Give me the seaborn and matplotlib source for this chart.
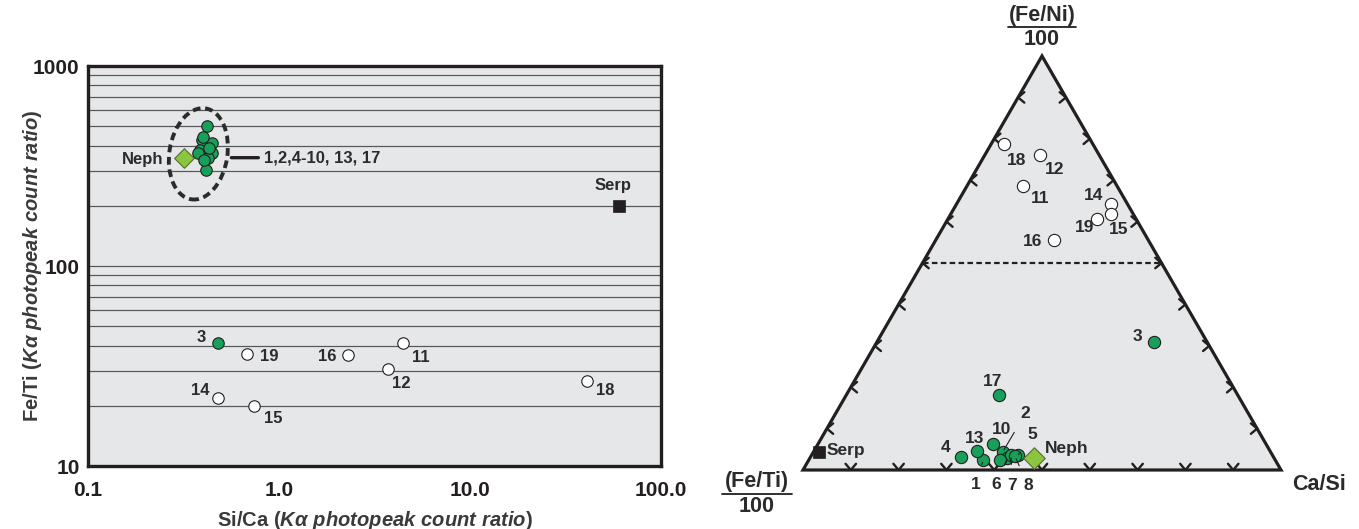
import numpy as np
import matplotlib
matplotlib.use("Agg")
import matplotlib.pyplot as plt
import matplotlib.transforms as mtransforms
from matplotlib.patches import Ellipse, Polygon
from matplotlib.ticker import LogLocator, NullFormatter
import seaborn as sns

# ---- data: Si/Ca vs Fe/Ti (left panel) ----
cluster_ids = ["1", "2", "4", "5", "6", "7", "8", "9", "10", "13", "17"]
cluster_sica = [0.418, 0.394, 0.445, 0.386, 0.445, 0.375, 0.423, 0.413, 0.400, 0.430, 0.405]
cluster_feti = [503, 427, 412, 380, 367, 367, 348, 302, 442, 389, 339]

green_ids = ["3"]
green_sica = [0.48]
green_feti = [41]

open_ids = ["11", "12", "14", "15", "16", "18", "19"]
open_sica = [4.45, 3.7, 0.48, 0.74, 2.3, 41, 0.68]
open_feti = [41, 30.5, 22, 20, 36, 26.6, 36.3]

neph_sica, neph_feti = 0.32, 348
serp_sica, serp_feti = 60, 200

x_ticks = [0.1, 1, 10, 100]
x_ticklabels = ["0.1", "1.0", "10.0", "100.0"]
y_ticks = [10, 100, 1000]
y_ticklabels = ["10", "100", "1000"]

# ---- data: ternary (Fe/Ni top, Ca/Si right, Fe/Ti left), percent ----
tern_green_ids = ["1", "2", "3", "4", "5", "6", "7", "8", "9", "10", "13", "17"]
tern_green_feni = [2.5, 4.3, 30.8, 3.1, 3.7, 2.8, 3.6, 3.3, 2.4, 6.3, 4.5, 18.0]
tern_green_casi = [36.5, 39.6, 58.1, 31.5, 43.2, 41.3, 41.7, 42.7, 40.0, 36.5, 34.1, 32.1]

tern_open_ids = ["11", "12", "14", "15", "16", "18", "19"]
tern_open_feni = [68.6, 76.2, 64.3, 61.9, 55.6, 78.7, 60.7]
tern_open_casi = [11.7, 11.4, 32.2, 33.4, 24.7, 2.6, 31.2]

tern_neph = (2.8, 46.9)
tern_serp = (4.3, 1.1)

# label offsets in pixels (dx right, dy down)
left_label_off = {"3": (-17, -6), "11": (18, 14), "12": (14, 14), "14": (-18, -7),
                  "15": (19, 13), "16": (-21, 2), "18": (18, 9), "19": (22, 2)}
tern_label_off = {"18": (13, 16), "12": (15, 15), "11": (17, 13), "14": (-17, -8),
                  "15": (8, 16), "19": (-13, 9), "16": (-21, 2), "3": (-17, -6),
                  "17": (-7, -14), "4": (-15, -10), "13": (-2, -13), "10": (9, -14),
                  "2": (23, -39), "5": (14, -20), "1": (-8, 25), "6": (-11, 26),
                  "7": (1, 30), "8": (13, 29)}
tern_leaders = ["1", "2", "5", "6", "7", "8"]

GREEN = "#17a05a"
NEPH = "#8cc63f"
DARK = "#231f20"
TXT = "#2b2b2b"
BG = "#e6e7e8"

sns.set_style("white")
plt.rcParams["font.family"] = ["Liberation Sans", "DejaVu Sans"]
plt.rcParams["font.weight"] = "bold"
plt.rcParams["mathtext.fontset"] = "custom"
plt.rcParams["mathtext.rm"] = "Liberation Sans:bold"
plt.rcParams["mathtext.bf"] = "Liberation Sans:bold"
plt.rcParams["mathtext.it"] = "Liberation Sans:bold:italic"

W, H = 1359, 529
fig = plt.figure(figsize=(W / 100, H / 100), dpi=100)
fig.patch.set_facecolor("white")

PX = 0.72  # points per pixel


def off(dx, dy):
    return (dx * PX, -dy * PX)


def seg(axis, xy, p0, p1, lw):
    # straight line between two pixel offsets from an anchor point
    tA = mtransforms.offset_copy(axis.transData, fig=fig, x=p0[0] * PX, y=-p0[1] * PX, units="points")
    tB = mtransforms.offset_copy(axis.transData, fig=fig, x=p1[0] * PX, y=-p1[1] * PX, units="points")
    axis.annotate("", xy=xy, xycoords=tB, xytext=xy, textcoords=tA, annotation_clip=False,
                  arrowprops=dict(arrowstyle="-", lw=lw, color=DARK, shrinkA=0, shrinkB=0))


# ================= left panel =================
ax = fig.add_axes([88 / W, (H - 466) / H, 573 / W, 400 / H])
ax.set_facecolor(BG)
ax.set_xscale("log")
ax.set_yscale("log")
ax.set_xlim(0.1, 100)
ax.set_ylim(10, 1000)

ax.yaxis.set_minor_locator(LogLocator(base=10, subs=range(2, 10)))
ax.yaxis.set_minor_formatter(NullFormatter())
ax.xaxis.set_minor_formatter(NullFormatter())
ax.grid(axis="y", which="both", color="#58595b", lw=0.9)
ax.set_axisbelow(True)
for s in ax.spines.values():
    s.set_color(DARK)
    s.set_linewidth(2.4)

ax.set_xticks(x_ticks)
ax.set_xticklabels(x_ticklabels)
ax.set_yticks(y_ticks)
ax.set_yticklabels(y_ticklabels)
ax.tick_params(which="both", length=0, labelsize=15, colors=DARK)
ax.tick_params(axis="x", pad=11)
ax.tick_params(axis="y", pad=6)

ax.set_xlabel(r"$\mathbf{Si/Ca\ (}\mathit{K\alpha\ photopeak\ count\ ratio)}$",
              fontsize=14.5, color="#3a3a3c", labelpad=6)
ax.set_ylabel(r"$\mathbf{Fe/Ti\ (}\mathit{K\alpha\ photopeak\ count\ ratio)}$",
              fontsize=14.5, color="#3a3a3c", labelpad=-8)

# cluster ellipse (dashed) around the grouped samples
cx = 10 ** np.mean(np.log10(cluster_sica))
cy = 10 ** np.mean(np.log10(cluster_feti))
etrans = fig.dpi_scale_trans + mtransforms.ScaledTranslation(cx, cy, ax.transData)
ax.add_patch(Ellipse((-0.07, -0.05), 0.58, 0.92, angle=-9, transform=etrans,
                     fill=False, ec="#2b2b2b", lw=2.8, ls=(0, (2.0, 1.2)), zorder=4))

mk = dict(s=68, edgecolor=DARK, linewidth=0.8, zorder=5, legend=False)
sns.scatterplot(x=cluster_sica, y=cluster_feti, color=GREEN, ax=ax, **mk)
sns.scatterplot(x=green_sica, y=green_feti, color=GREEN, ax=ax, **mk)
sns.scatterplot(x=open_sica, y=open_feti, color="white", ax=ax, **mk)
sns.scatterplot(x=[neph_sica], y=[neph_feti], color=NEPH, marker="D", ax=ax,
                s=100, edgecolor="#5a6b3a", linewidth=0.8, zorder=6, legend=False)
sns.scatterplot(x=[serp_sica], y=[serp_feti], color=DARK, marker="s", ax=ax,
                s=75, edgecolor=DARK, linewidth=0.5, zorder=6, legend=False)

lab = dict(textcoords="offset points", ha="center", va="center", fontsize=12,
           color=TXT, zorder=7)
for i, xv, yv in zip(green_ids + open_ids, green_sica + open_sica, green_feti + open_feti):
    ax.annotate(i, (xv, yv), xytext=off(*left_label_off[i]), **lab)
ax.annotate("Neph", (neph_sica, neph_feti), xytext=off(-42, 2), **lab)
ax.annotate("Serp", (serp_sica, serp_feti), xytext=off(-6, -20), **lab)

# leader line + cluster label
seg(ax, (cx, neph_feti), (26, 0), (53, 0), lw=2.4)
ax.annotate("1,2,4-10, 13, 17", (cx, neph_feti), xytext=off(59, 0),
            textcoords="offset points", ha="left", va="center", fontsize=12,
            color=TXT, zorder=7)

# ================= right panel: ternary =================
SQ = np.sqrt(3) / 2
tx = fig.add_axes([803 / W, (H - 470) / H, 478 / W, 414 / H])
tx.set_xlim(0, 1)
tx.set_ylim(0, SQ)
tx.axis("off")


def tern(top, right):
    t = np.asarray(top, float) / 100
    r = np.asarray(right, float) / 100
    return r + t / 2, t * SQ


tx.add_patch(Polygon([(0, 0), (1, 0), (0.5, SQ)], closed=True, fc=BG, ec=DARK,
                     lw=2.3, joinstyle="miter", clip_on=False, zorder=1))
tx.plot([0.25, 0.75], [SQ / 2, SQ / 2], color=DARK, lw=1.6, ls=(0, (2.5, 1.5)), zorder=2,
        clip_on=False)

# chevron ticks every 10 %
d, a = 0.017, np.radians(40)
for k in range(1, 10):
    f = k / 10
    x0, y0 = f, 0
    tx.plot([x0 - d * np.sin(a), x0, x0 + d * np.sin(a)], [y0 + d * np.cos(a), y0, y0 + d * np.cos(a)],
            color=DARK, lw=1.7, zorder=2, clip_on=False)
    x0, y0 = f / 2, f * SQ
    tx.plot([x0 + d * np.cos(a), x0, x0 + d * np.cos(a)], [y0 + d * np.sin(a), y0, y0 - d * np.sin(a)],
            color=DARK, lw=1.7, zorder=2, clip_on=False)
    x0, y0 = 1 - f / 2, f * SQ
    tx.plot([x0 - d * np.cos(a), x0, x0 - d * np.cos(a)], [y0 + d * np.sin(a), y0, y0 - d * np.sin(a)],
            color=DARK, lw=1.7, zorder=2, clip_on=False)

gx, gy = tern(tern_green_feni, tern_green_casi)
ox, oy = tern(tern_open_feni, tern_open_casi)
nx, ny = tern(*tern_neph)
sx, sy = tern(*tern_serp)

tmk = dict(s=78, edgecolor=DARK, linewidth=0.8, zorder=5, legend=False, clip_on=False)
sns.scatterplot(x=gx, y=gy, color=GREEN, ax=tx, **tmk)
sns.scatterplot(x=ox, y=oy, color="white", ax=tx, **tmk)
sns.scatterplot(x=[nx], y=[ny], color=NEPH, marker="D", ax=tx, s=120,
                edgecolor="#5a6b3a", linewidth=0.8, zorder=6, legend=False)
sns.scatterplot(x=[sx], y=[sy], color=DARK, marker="s", ax=tx, s=65,
                edgecolor=DARK, linewidth=0.5, zorder=6, legend=False)

tlab = dict(textcoords="offset points", ha="center", va="center", fontsize=12.5,
            color=TXT, zorder=7, annotation_clip=False)
for ids, xs, ys in ((tern_green_ids, gx, gy), (tern_open_ids, ox, oy)):
    for i, xv, yv in zip(ids, xs, ys):
        if i not in tern_label_off:
            continue
        dx, dy = tern_label_off[i]
        if i in tern_leaders:
            tx.annotate(i, (xv, yv), xytext=off(dx, dy),
                        arrowprops=dict(arrowstyle="-", lw=0.8, color=DARK,
                                        shrinkA=7, shrinkB=2), **tlab)
        else:
            tx.annotate(i, (xv, yv), xytext=off(dx, dy), **tlab)
tx.annotate("Neph", (nx, ny), xytext=off(33, -10), **tlab)
tx.annotate("Serp", (sx, sy), xytext=off(27, -2), **tlab)

# corner labels
corner = dict(textcoords="offset points", ha="center", va="center", fontsize=15.5,
              color=TXT, annotation_clip=False)
tx.annotate("(Fe/Ni)", (0.5, SQ), xytext=off(0, -41), **corner)
seg(tx, (0.5, SQ), (-34, -29), (34, -29), lw=1.3)
tx.annotate("100", (0.5, SQ), xytext=off(0, -16), **corner)
tx.annotate("(Fe/Ti)", (0, 0), xytext=off(-46, 11), **corner)
seg(tx, (0, 0), (-81, 24), (-11, 24), lw=1.3)
tx.annotate("100", (0, 0), xytext=off(-46, 36), **corner)
tx.annotate("Ca/Si", (1, 0), xytext=off(38, 15), **corner)

fig.savefig("out.png", dpi=100, facecolor="white")
